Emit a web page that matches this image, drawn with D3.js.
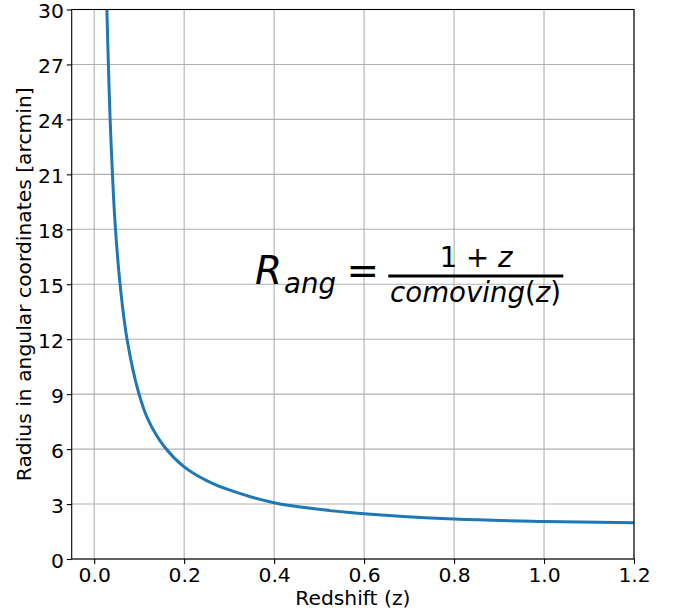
<!DOCTYPE html>
<html>
<head>
<meta charset="utf-8">
<script src="https://cdn.jsdelivr.net/npm/d3@7"></script>
<style>
  html, body { margin: 0; padding: 0; background: #fff; }
  svg { display: block; font-family: "DejaVu Sans", sans-serif; }
</style>
</head>
<body>
<svg id="chart" width="676" height="612"></svg>
<script>
// ---- data ----
const redshift = [0.026, 0.0282, 0.032, 0.0356, 0.0408, 0.046, 0.0571, 0.073, 0.0986, 0.120, 0.157, 0.2, 0.25, 0.3, 0.4, 0.5, 0.6, 0.8, 1.0, 1.2];
const radiusArcmin = [32.0, 30.0, 26.6, 23.9, 20.9, 18.5, 15.1, 12.0, 9.1, 7.6, 6.1, 5.03, 4.28, 3.77, 3.07, 2.71, 2.47, 2.18, 2.05, 1.98];
const xTicks = [0.0, 0.2, 0.4, 0.6, 0.8, 1.0, 1.2];
const yTicks = [0, 3, 6, 9, 12, 15, 18, 21, 24, 27, 30];
const xDomain = [-0.05, 1.2];
const yDomain = [0, 30];
const xLabel = "Redshift (z)";
const yLabel = "Radius in angular coordinates [arcmin]";

// ---- layout ----
const W = 676, H = 612;
const pL = 71.7, pR = 634, pT = 9.5, pB = 559;
const fs = 20.3;

const svg = d3.select("#chart");
const x = d3.scaleLinear().domain(xDomain).range([pL, pR]);
const y = d3.scaleLinear().domain(yDomain).range([pB, pT]);

svg.append("rect").attr("width", W).attr("height", H).attr("fill", "#fff");

// grid
const grid = svg.append("g");
grid.selectAll("line.gx").data(xTicks).join("line").attr("class", "gx")
  .attr("x1", d => x(d)).attr("x2", d => x(d))
  .attr("y1", pT).attr("y2", pB)
  .attr("stroke", "#b0b0b0").attr("stroke-width", 1.1);
grid.selectAll("line.gy").data(yTicks).join("line").attr("class", "gy")
  .attr("y1", d => y(d)).attr("y2", d => y(d))
  .attr("x1", pL).attr("x2", pR)
  .attr("stroke", "#b0b0b0").attr("stroke-width", 1.1);

// clip
svg.append("clipPath").attr("id", "clip")
  .append("rect").attr("x", pL).attr("y", pT)
  .attr("width", pR - pL).attr("height", pB - pT);

const pts = redshift.map((z, i) => [z, radiusArcmin[i]]);
const line = d3.line().x(d => x(d[0])).y(d => y(d[1])).curve(d3.curveCatmullRom.alpha(0.5));
svg.append("path").datum(pts)
  .attr("clip-path", "url(#clip)")
  .attr("d", line)
  .attr("fill", "none")
  .attr("stroke", "#1f77b4")
  .attr("stroke-width", 3)
  .attr("stroke-linecap", "square");

// axes
const xAxis = d3.axisBottom(x).tickValues(xTicks).tickFormat(d3.format(".1f")).tickSizeOuter(0).tickSize(4.9).tickPadding(4.9);
const yAxis = d3.axisLeft(y).tickValues(yTicks).tickFormat(d3.format("d")).tickSizeOuter(0).tickSize(4.9).tickPadding(3);

const gx = svg.append("g").attr("transform", `translate(0,${pB})`).call(xAxis);
const gy = svg.append("g").attr("transform", `translate(${pL},0)`).call(yAxis);
[gx, gy].forEach(g => {
  g.select(".domain").remove();
  g.selectAll(".tick line").attr("stroke", "#000").attr("stroke-width", 1.1);
  g.selectAll(".tick text").attr("font-family", "DejaVu Sans").attr("font-size", fs).attr("fill", "#000");
});
gx.selectAll(".tick text").attr("dy", null).attr("y", 23);
gy.selectAll(".tick text").attr("dy", null).attr("y", 8.3);

// spines
svg.append("rect").attr("x", pL).attr("y", pT)
  .attr("width", pR - pL).attr("height", pB - pT)
  .attr("fill", "none").attr("stroke", "#000").attr("stroke-width", 1.1);

// axis labels
svg.append("text").attr("x", (pL + pR) / 2).attr("y", 605)
  .attr("text-anchor", "middle").attr("font-size", fs).text(xLabel);
svg.append("text")
  .attr("transform", `translate(30.5,${(pT + pB) / 2}) rotate(-90)`)
  .attr("text-anchor", "middle").attr("font-size", fs).text(yLabel);

// formula annotation
const big = 38.9, small = 27.6;
const f = svg.append("g").attr("fill", "#000");
f.append("text").attr("x", 255).attr("y", 284.3).attr("font-size", big).attr("font-style", "italic").text("R");
f.append("text").attr("x", 284).attr("y", 293.3).attr("font-size", small).attr("font-style", "italic").text("ang");
f.append("text").attr("x", 346.5).attr("y", 284.3).attr("font-size", big).text("=");
f.append("line").attr("x1", 388.3).attr("x2", 563.3).attr("y1", 276).attr("y2", 276)
  .attr("stroke", "#000").attr("stroke-width", 2.8);
const num = f.append("text").attr("x", 476).attr("y", 266.7).attr("font-size", small).attr("text-anchor", "middle");
num.append("tspan").text("1");
num.append("tspan").text(" + ");
num.append("tspan").attr("font-style", "italic").text("z");
const den = f.append("text").attr("x", 475.5).attr("y", 301.7).attr("font-size", small).attr("text-anchor", "middle");
den.append("tspan").attr("font-style", "italic").text("comoving");
den.append("tspan").text("(");
den.append("tspan").attr("font-style", "italic").text("z");
den.append("tspan").text(")");
</script>
</body>
</html>
